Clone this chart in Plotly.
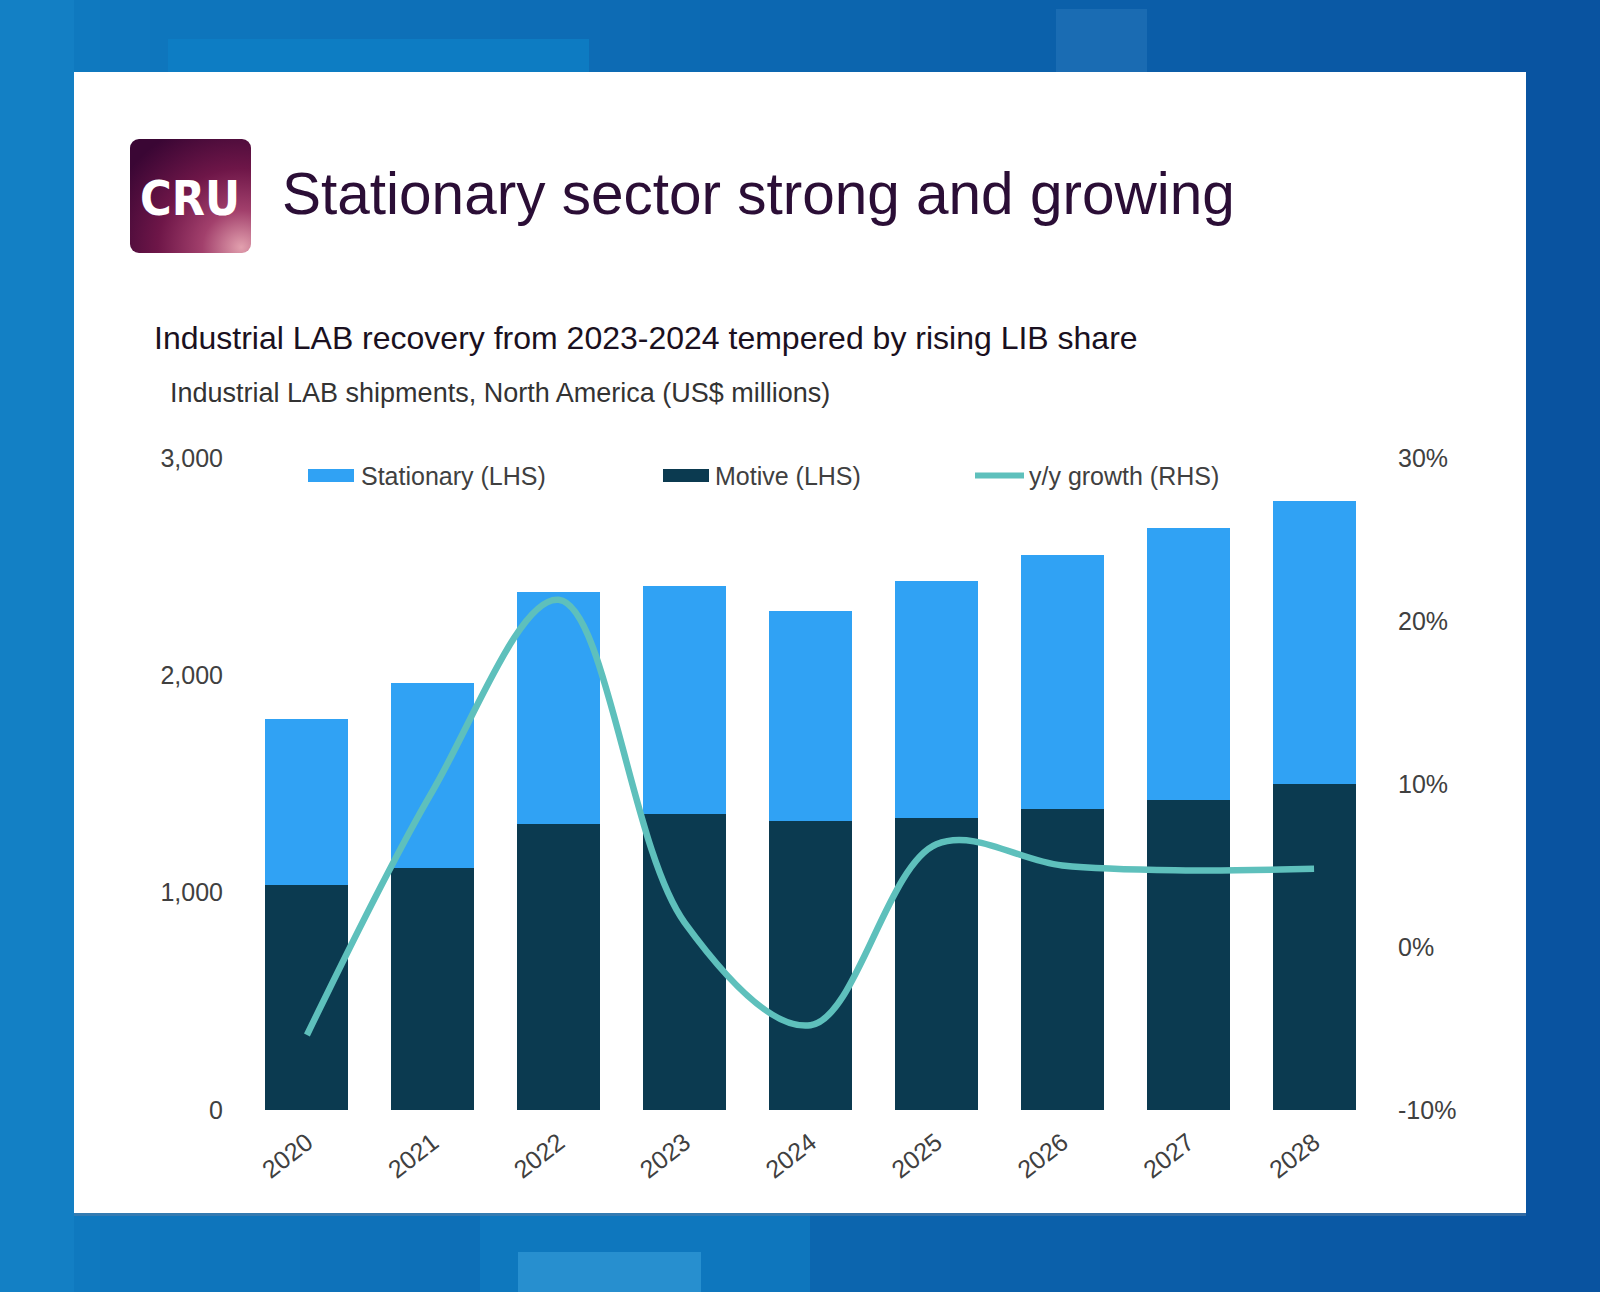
import base64
import plotly.graph_objects as go

# ---------------- data ----------------
years = ["2020", "2021", "2022", "2023", "2024", "2025", "2026", "2027", "2028"]
motive = [1033, 1113, 1315, 1362, 1329, 1343, 1385, 1427, 1502]
stationary = [765, 854, 1070, 1051, 967, 1089, 1169, 1249, 1301]
growth = [-5.4, 9.6, 21.3, 1.5, -4.8, 6.3, 5.0, 4.7, 4.8]
left_ticks = [0, 1000, 2000, 3000]
right_ticks = [-10, 0, 10, 20, 30]
right_tick_text = ["-10%", "0%", "10%", "20%", "30%"]

title = "Stationary sector strong and growing"
subtitle = "Industrial LAB recovery from 2023-2024 tempered by rising LIB share"
unit_label = "Industrial LAB shipments, North America (US$ millions)"

# ---------------- layout geometry (pixels) ----------------
W, H = 1600, 1292
PL, PR, PT, PB = 244, 1377, 458, 1110  # plot area


def px(x):
    return (x - PL) / (PR - PL)


def py(y):
    return (PB - y) / (PB - PT)


FONT = "Liberation Sans, Arial, sans-serif"
C_STAT = "#30A2F4"
C_MOT = "#0B3A50"
C_LINE = "#5EC0BC"

fig = go.Figure()
fig.add_bar(x=years, y=motive, name="Motive (LHS)", marker=dict(color=C_MOT, line=dict(width=0)))
fig.add_bar(x=years, y=stationary, name="Stationary (LHS)", marker=dict(color=C_STAT, line=dict(width=0)))
fig.add_scatter(x=years, y=growth, yaxis="y2", mode="lines", name="y/y growth (RHS)",
                line=dict(color=C_LINE, width=6.5, shape="spline", smoothing=1.0))

shapes = []


def hexmix(a, b, t):
    a = [int(a[i:i + 2], 16) for i in (1, 3, 5)]
    b = [int(b[i:i + 2], 16) for i in (1, 3, 5)]
    return "#" + "".join(f"{round(a[k] + (b[k] - a[k]) * t):02x}" for k in range(3))


# background gradient strips
n = 32
for i in range(n):
    x0 = i * W / n
    x1 = (i + 1) * W / n + 1
    shapes.append(dict(type="rect", xref="paper", yref="paper", layer="below",
                       x0=px(x0), x1=px(x1), y0=py(0), y1=py(H),
                       fillcolor=hexmix("#0F7AC0", "#0953A0", i / (n - 1)), line=dict(width=0)))


def rect(x0, y0, x1, y1, color, opacity=1.0):
    shapes.append(dict(type="rect", xref="paper", yref="paper", layer="below",
                       x0=px(x0), x1=px(x1), y0=py(y1), y1=py(y0), opacity=opacity,
                       fillcolor=color, line=dict(width=0)))


# decorative background blocks
rect(168, 39, 589, 74, "#0E80C6", 0.8)
rect(1056, 9, 1147, 74, "#2A78BC", 0.5)
rect(480, 1213, 810, 1292, "#0F7AC0", 0.8)
rect(518, 1252, 701, 1292, "#2A91D0", 0.9)
rect(0, 0, 74, 1292, "#1583C8", 0.6)

# card shadow + white card
rect(74, 74, 1526, 1216, "#5a7fa5", 0.5)
rect(74, 72, 1526, 1213, "#FFFFFF")

# custom legend
legend_y = 475.5
rect(308, 469, 354, 482, C_STAT)
rect(663, 469, 709, 482, C_MOT)
shapes.append(dict(type="line", xref="paper", yref="paper", layer="above",
                   x0=px(975), x1=px(1024), y0=py(legend_y), y1=py(legend_y),
                   line=dict(color=C_LINE, width=6)))

annotations = []


def text(x, y, s, size, color, anchor="left", family=FONT, bold=False):
    f = dict(family=family, size=size, color=color)
    if bold:
        f["weight"] = "bold"
    annotations.append(dict(xref="paper", yref="paper", x=px(x), y=py(y), text=s,
                            showarrow=False, xanchor=anchor, yanchor="middle", font=f))


text(280, 194, title, 58.5, "#2B0E36")
text(152, 338, subtitle, 32, "#1A1020")
text(168, 393, unit_label, 27, "#333333")
text(359, legend_y, "Stationary (LHS)", 25, "#404040")
text(713, legend_y, "Motive (LHS)", 25, "#404040")
text(1027, legend_y, "y/y growth (RHS)", 25, "#404040")

# logo
svg = ("<svg xmlns='http://www.w3.org/2000/svg' width='121' height='114'>"
       "<defs><radialGradient id='g' cx='0.92' cy='0.95' r='1.15'>"
       "<stop offset='0' stop-color='#E2A0AE'/><stop offset='0.28' stop-color='#A2406C'/>"
       "<stop offset='0.6' stop-color='#6E1648'/><stop offset='1' stop-color='#3A0634'/>"
       "</radialGradient></defs><rect width='121' height='114' rx='9' ry='9' fill='url(#g)'/></svg>")
logo_src = "data:image/svg+xml;base64," + base64.b64encode(svg.encode()).decode()
images = [dict(source=logo_src, xref="paper", yref="paper", x=px(130), y=py(139),
               sizex=121 / (PR - PL), sizey=114 / (PB - PT), xanchor="left", yanchor="top",
               sizing="stretch", layer="above")]
text(190, 198, "CRU", 48, "#FFFFFF", anchor="center",
     family="DejaVu Sans Condensed, DejaVu Sans, sans-serif", bold=True)

fig.update_layout(
    width=W, height=H,
    margin=dict(l=PL, r=W - PR, t=PT, b=H - PB, pad=0),
    paper_bgcolor="#0A62AC",
    plot_bgcolor="rgba(0,0,0,0)",
    barmode="stack",
    bargap=0.34,
    showlegend=False,
    font=dict(family=FONT, color="#404040"),
    shapes=shapes,
    annotations=annotations,
    images=images,
    xaxis=dict(showgrid=False, zeroline=False, showline=False, ticks="", ticklabelstandoff=12,
               tickangle=-38, tickfont=dict(size=25, color="#404040"), range=[-0.5, 8.5]),
    yaxis=dict(range=[0, 3000], tickvals=left_ticks, tickformat=",", showgrid=False, zeroline=False,
               showline=False, ticks="", ticklabelstandoff=20, tickfont=dict(size=25, color="#404040")),
    yaxis2=dict(range=[-10, 30], tickvals=right_ticks, ticktext=right_tick_text, overlaying="y", side="right",
                showgrid=False, zeroline=False, showline=False, ticks="", ticklabelstandoff=20,
                tickfont=dict(size=25, color="#404040")),
)

fig.write_html("out.html")
